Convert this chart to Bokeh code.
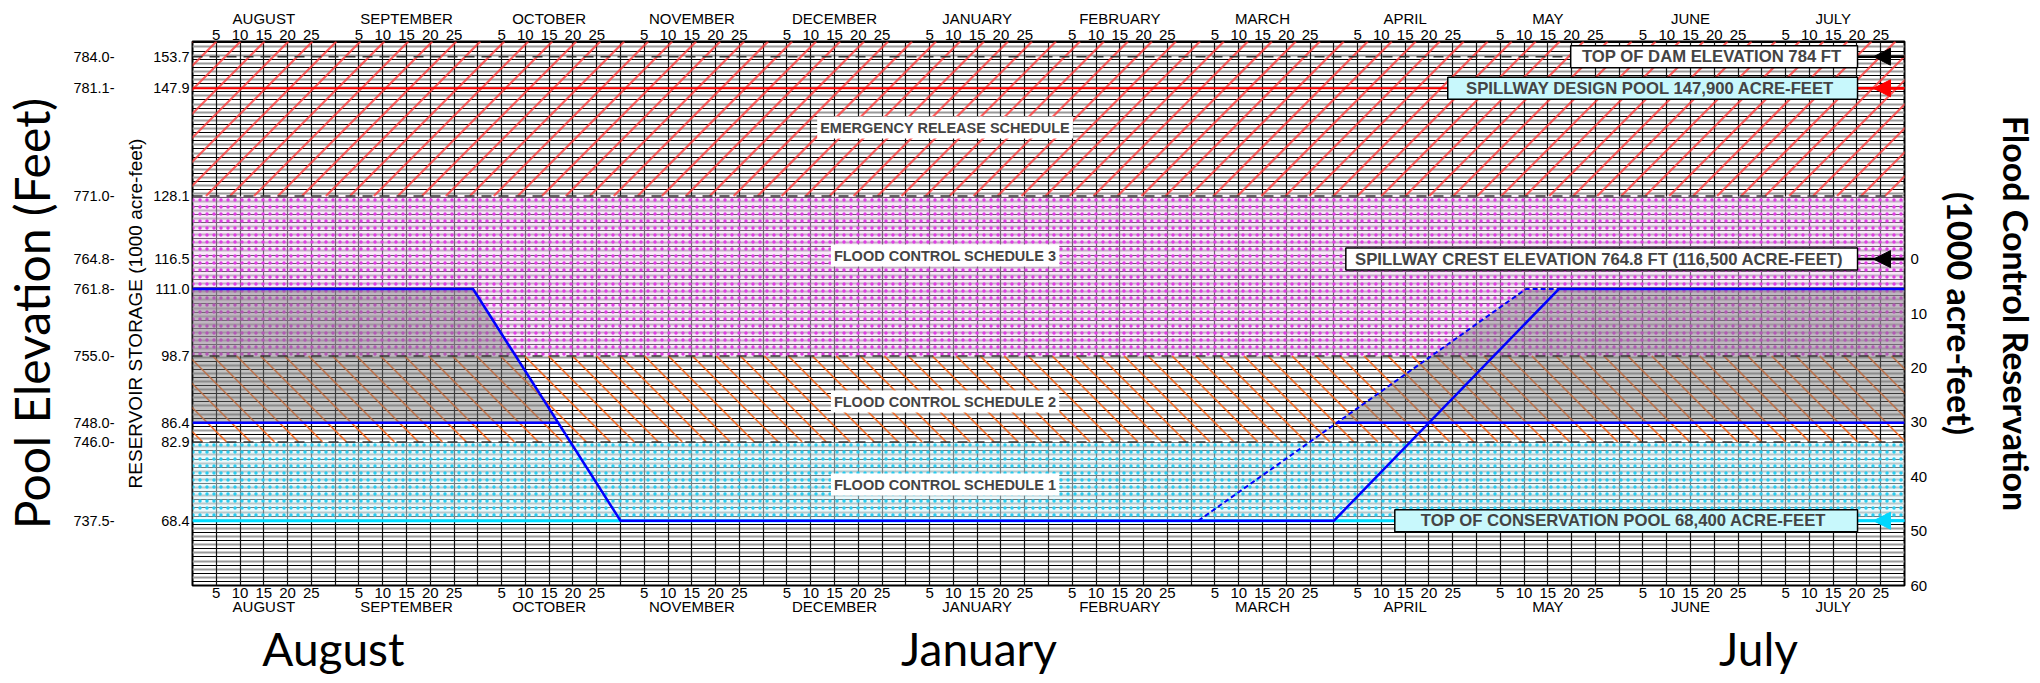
import numpy as np
from bokeh.plotting import figure
from bokeh.models import Range1d, LinearAxis, FixedTicker, Label, Arrow, NormalHead, Grid
from bokeh.embed import file_html
from bokeh.resources import INLINE

# ---------------- data ----------------
months = ["AUGUST", "SEPTEMBER", "OCTOBER", "NOVEMBER", "DECEMBER", "JANUARY",
          "FEBRUARY", "MARCH", "APRIL", "MAY", "JUNE", "JULY"]
month_days = [5, 10, 15, 20, 25]
season_labels = ["August", "January", "July"]

storage_ticks = [153.7, 147.9, 128.1, 116.5, 111.0, 98.7, 86.4, 82.9, 68.4]
elevation_ticks = ["784.0", "781.1", "771.0", "764.8", "761.8", "755.0", "748.0", "746.0", "737.5"]

zone_names = ["FLOOD CONTROL SCHEDULE 1", "FLOOD CONTROL SCHEDULE 2",
              "FLOOD CONTROL SCHEDULE 3", "EMERGENCY RELEASE SCHEDULE"]
zone_bottom = [68.4, 82.9, 98.7, 128.1]
zone_top = [82.9, 98.7, 128.1, 156.5]

top_of_dam = 153.7
spillway_design_pool = 147.9
spillway_crest = 116.5
conservation_pool = 68.4
schedule_low = 86.4
reservation_ticks = [0, 10, 20, 30, 40, 50, 60]

# guide curve; x = days from 1 August (30-day months)
guide_x = [0, 59, 90, 240, 287.3, 360]
guide_y = [111.0, 111.0, 68.4, 68.4, 111.0, 111.0]
early_x = [211.5, 280.4, 287.3]
early_y = [68.4, 111.0, 111.0]

callout_texts = ["TOP OF DAM ELEVATION 784 FT",
                 "SPILLWAY DESIGN POOL 147,900 ACRE-FEET",
                 "SPILLWAY CREST ELEVATION 764.8 FT (116,500 ACRE-FEET)",
                 "TOP OF CONSERVATION POOL 68,400 ACRE-FEET"]
callout_values = [top_of_dam, spillway_design_pool, spillway_crest, conservation_pool]

# ---------------- layout ----------------
W, H = 2040, 683
FL, FR, FT, FB = 191, 1904, 41, 585
X0, X1 = 0, 360
Y0, Y1 = spillway_crest - reservation_ticks[-1], zone_top[-1]
PX_X = (FR - FL) / (X1 - X0)
PX_Y = (FB - FT) / (Y1 - Y0)


def sx(px):
    return X0 + (px - FL) / PX_X


def sy(py):
    return Y1 - (py - FT) / PX_Y


p = figure(width=W, height=H, x_range=Range1d(X0, X1), y_range=Range1d(Y0, Y1),
           output_backend="svg", toolbar_location=None,
           x_axis_location=None, y_axis_location=None,
           min_border_left=FL, min_border_right=W - FR,
           min_border_top=FT, min_border_bottom=H - FB)
p.outline_line_color = "black"
p.outline_line_width = 2
p.background_fill_color = "white"
p.border_fill_color = "white"
for g in list(p.xgrid) + list(p.ygrid):
    g.visible = False

# grid
hmajor = list(np.arange(Y0 + 0.75, Y1, 1.5))
hminor = [v + 0.75 for v in hmajor]
p.add_layout(Grid(dimension=1, ticker=FixedTicker(ticks=hminor), grid_line_color="#9a9a9a", grid_line_width=2))
p.add_layout(Grid(dimension=1, ticker=FixedTicker(ticks=hmajor), grid_line_color="black", grid_line_width=1))
vgrid = [m * 30 + d for m in range(len(months)) for d in [0] + month_days]
p.add_layout(Grid(dimension=0, ticker=FixedTicker(ticks=vgrid), grid_line_color="#111111", grid_line_width=1.2))

# zones: dotted fills
dot_style = {
    0: dict(fill_color="#d8f5fb", fill_alpha=0.5, hatch_pattern=".", hatch_color="#28ccf0",
            hatch_scale=7, hatch_weight=1.5),
    2: dict(fill_color="#f5c8f6", fill_alpha=0.45, hatch_pattern=".", hatch_color="#e03ce4",
            hatch_scale=7, hatch_weight=1.5),
}
for i, st in dot_style.items():
    p.quad(left=X0, right=X1, bottom=zone_bottom[i], top=zone_top[i], line_color=None, **st)


# zones: diagonal hatching at 45 degrees on screen
def diagonal_hatch(bottom, top, spacing_px, direction):
    dx = (top - bottom) * PX_Y / PX_X
    step = spacing_px / PX_X
    starts = np.arange(X0 - dx - step, X1 + dx + step, step)
    return dict(x0=starts, y0=[bottom] * len(starts), x1=starts + direction * dx, y1=[top] * len(starts))


p.segment(**diagonal_hatch(zone_bottom[1], zone_top[1], 24, -1),
          line_color="#f0661e", line_width=1.7, line_alpha=0.9)
p.segment(**diagonal_hatch(zone_bottom[3], zone_top[3], 24, 1),
          line_color="#ff3b3b", line_width=2.2, line_alpha=0.8)

# gray shaded regions
gx = np.array(guide_x)
gy = np.array(guide_y)
x_fall = float(np.interp(schedule_low, gy[2:0:-1], gx[2:0:-1]))
x_rise = float(np.interp(schedule_low, early_y[:2], early_x[:2]))
p.patch([X0, gx[1], x_fall, X0], [gy[0], gy[1], schedule_low, schedule_low],
        fill_color="#7a7a7a", fill_alpha=0.45, line_color=None)
p.patch([x_rise, early_x[1], X1, X1], [schedule_low, early_y[1], early_y[1], schedule_low],
        fill_color="#7a7a7a", fill_alpha=0.45, line_color=None)

# reference lines
for v in [top_of_dam] + zone_bottom[1:]:
    p.line([X0, X1], [v, v], line_color="#333333", line_width=1.5, line_dash="10 7")
p.line([X0, X1], [spillway_design_pool] * 2, line_color="#ff0000", line_width=2)
p.line([X0, X1], [conservation_pool] * 2, line_color="#00dcff", line_width=3)

# guide curves
p.line([X0, x_fall], [schedule_low] * 2, line_color="#0000ff", line_width=2.5)
p.line([x_rise, X1], [schedule_low] * 2, line_color="#0000ff", line_width=2.5)
p.line(guide_x, guide_y, line_color="#0000ff", line_width=2.5)
p.line(early_x, early_y, line_color="#0000ff", line_width=2, line_dash="5 3")

# zone labels
zone_label_py = [484, 401, 255, 127]
for name, py in zip(zone_names, zone_label_py):
    p.add_layout(Label(x=sx(944), y=sy(py), text=name, text_align="center", text_baseline="middle",
                       text_font="Liberation Sans", text_font_style="bold", text_font_size="14.5px",
                       background_fill_color="white", padding=3))

# callouts
callout_left_px = [1570, 1447, 1345, 1394]
callout_fill = ["white", "#c8f8fc", "white", "#c8f8fc"]
callout_arrow = ["black", "#ff0000", "black", "#00d8ff"]
hh = 11 / PX_Y
box_right = sx(1857)
for txt, v, lpx, fc, ac in zip(callout_texts, callout_values, callout_left_px, callout_fill, callout_arrow):
    p.segment(x0=box_right, y0=v, x1=X1, y1=v, line_color=ac, line_width=2.5)
    p.quad(left=sx(lpx), right=box_right, bottom=v - hh, top=v + hh,
           fill_color=fc, line_color="black", line_width=1.5)
    p.add_layout(Label(x=(sx(lpx) + box_right) / 2 - 0.5, y=v, text=txt, text_align="center",
                       text_baseline="middle", text_font="Liberation Sans",
                       text_font_style="bold", text_font_size="16.7px"))
    p.add_layout(Arrow(start=None, end=NormalHead(size=17, fill_color=ac, line_color=ac, line_width=1),
                       x_start=X1, y_start=v, x_end=sx(1873), y_end=v,
                       line_color=ac, line_width=2.5))


# axes
def make_axis(ticks, overrides, standoff, size="15px", font="Liberation Sans"):
    return LinearAxis(ticker=FixedTicker(ticks=ticks, minor_ticks=[]),
                      major_label_overrides=overrides,
                      axis_line_color=None, major_tick_line_color=None, minor_tick_line_color=None,
                      major_tick_out=0, major_tick_in=0, minor_tick_out=0, minor_tick_in=0,
                      major_label_standoff=standoff, major_label_text_font=font,
                      major_label_text_font_size=size, major_label_text_color="black",
                      axis_label_text_color="black", axis_label_text_font_style="normal")


storage_axis = make_axis(storage_ticks, {v: f"{v:.1f}" for v in storage_ticks}, 3, "14.5px")
storage_axis.axis_label = "RESERVOIR STORAGE (1000 acre-feet)"
storage_axis.axis_label_text_font = "Liberation Sans"
storage_axis.axis_label_text_font_size = "19px"
storage_axis.axis_label_standoff = 4
p.add_layout(storage_axis, "left")

elev_axis = make_axis(storage_ticks, {v: e + "-" for v, e in zip(storage_ticks, elevation_ticks)},
                      8, "14.5px")
elev_axis.axis_label = "Pool Elevation (Feet)"
elev_axis.axis_label_text_font = "Lato"
elev_axis.axis_label_text_font_size = "48px"
elev_axis.axis_label_standoff = 10
p.add_layout(elev_axis, "left")

res_pos = [spillway_crest - r for r in reservation_ticks]
res_axis = make_axis(res_pos, {v: str(r) for v, r in zip(res_pos, reservation_ticks)}, 6)
res_axis.axis_label = "Flood Control Reservation\n(1000 acre-feet)"
res_axis.axis_label_text_font = "Lato"
res_axis.axis_label_text_font_style = "bold"
res_axis.axis_label_text_font_size = "34px"
res_axis.axis_label_text_line_height = 1.35
res_axis.axis_label_standoff = 10
p.add_layout(res_axis, "right")

day_pos = [m * 30 + d for m in range(len(months)) for d in month_days]
day_over = {m * 30 + d: str(d) for m in range(len(months)) for d in month_days}
mon_pos = [m * 30 + 15 for m in range(len(months))]
mon_over = {m * 30 + 15: name for m, name in enumerate(months)}
p.add_layout(make_axis(day_pos, day_over, 2), "above")
p.add_layout(make_axis(mon_pos, mon_over, 0), "above")
p.add_layout(make_axis(day_pos, day_over, 2), "below")
p.add_layout(make_axis(mon_pos, mon_over, -3), "below")

season_pos = [sx(332), sx(978), sx(1758)]
season_axis = make_axis(season_pos, {v: s for v, s in zip(season_pos, season_labels)}, 3,
                        "46px", "Lato")
p.add_layout(season_axis, "below")

open("out.html", "w").write(file_html(p, INLINE))
